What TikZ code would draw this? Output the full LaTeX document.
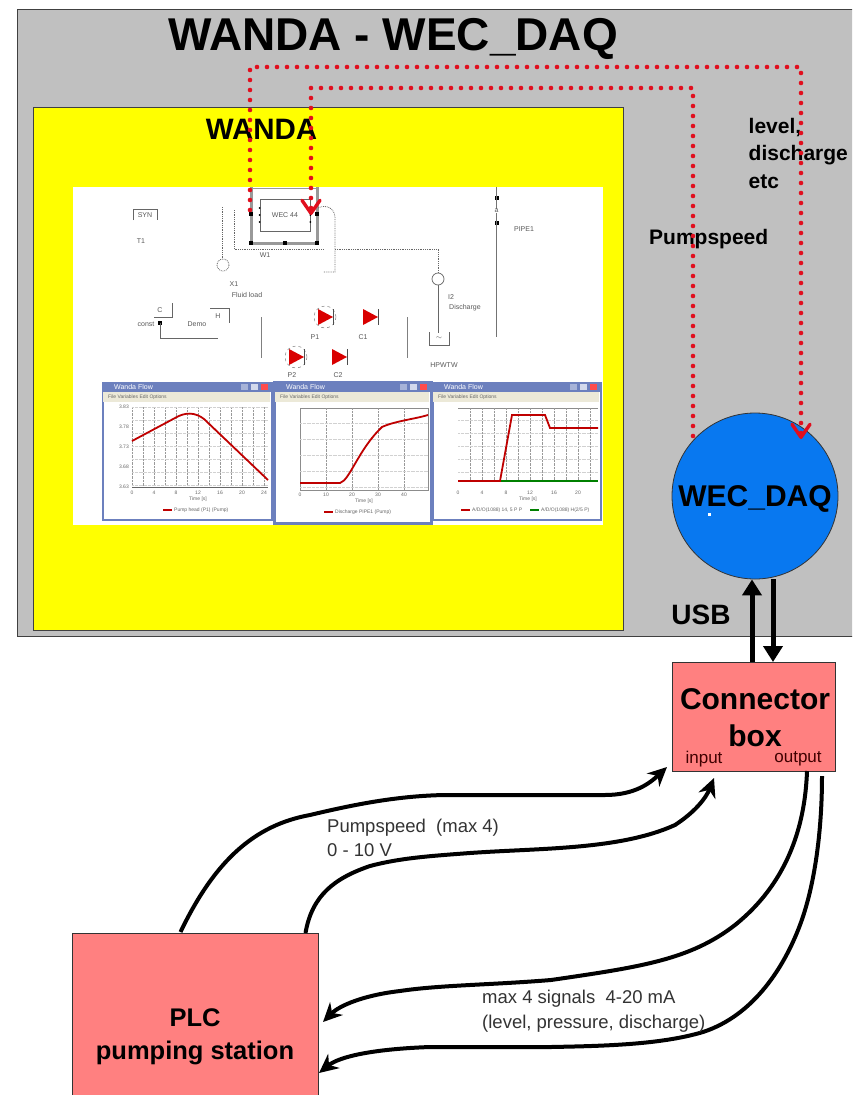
\documentclass[tikz,border=0pt]{standalone}
\usepackage{fontspec}
\setmainfont{Liberation Sans}
\usepackage{xcolor}
\definecolor{panelgray}{RGB}{192,192,192}
\definecolor{sheetyellow}{RGB}{255,255,0}
\definecolor{daqblue}{RGB}{8,120,240}
\definecolor{salmon}{RGB}{255,128,128}
\definecolor{dotred}{RGB}{225,15,30}
\definecolor{winblue}{RGB}{108,128,190}
\definecolor{menubeige}{RGB}{236,233,216}
\usetikzlibrary{arrows.meta, positioning, calc, shapes.geometric}

\begin{document}
\begin{tikzpicture}[
    x=1pt, y=-1pt,
    >=Stealth,
    panel/.style={draw=black!75, fill=panelgray, line width=1pt, anchor=north west, inner sep=0pt},
    sheet/.style={fill=sheetyellow, draw=black!75, line width=1pt, anchor=north west, inner sep=0pt},
    shot/.style={fill=white, anchor=north west, inner sep=0pt},
    redbox/.style={draw=black!80, fill=salmon, line width=0.8pt, anchor=north west, inner sep=0pt},
    daqnode/.style={draw=black!80, fill=daqblue, circle, line width=0.8pt, minimum size=166pt, inner sep=0pt},
    head/.style={font=\fontsize{#1}{#1}\selectfont\bfseries, inner sep=0pt},
    note/.style={font=\fontsize{18.5}{24.5}\selectfont, align=left, anchor=west, inner sep=0pt, text=black!80},
    tag/.style={font=\fontsize{21}{27.5}\selectfont\bfseries, align=left, anchor=west, inner sep=0pt},
    port/.style={font=\fontsize{17}{17}\selectfont, inner sep=0pt, text=black!75!red},
    tiny/.style={font=\fontsize{7}{7}\selectfont, inner sep=0pt, text=black!65},
    mini/.style={font=\fontsize{5}{5}\selectfont, inner sep=0pt, text=black!60},
    redline/.style={dotred, line width=4.6pt, line cap=round, dash pattern=on 0pt off 10pt},
    redtip/.style={-{Straight Barb[length=13pt,width=18pt,line width=3.4pt,round,dotred]}},
    usbline/.style={line width=5pt, -{Triangle[length=16pt,width=19pt]}},
    wire/.style={line width=4pt, -{Stealth[length=19pt,width=18pt]}},
    thinwire/.style={black!60, line width=0.7pt},
    dotwire/.style={black!60, line width=0.8pt, densely dotted},
    window/.style={draw=winblue, fill=white, line width=1.5pt, anchor=north west, inner sep=0pt},
    plotarea/.style={draw=black!45, line width=0.5pt},
    curve/.style={red!75!black, line width=1.8pt},
    gridv/.style={black!40, line width=0.4pt, densely dotted},
    gridh/.style={black!18, line width=0.3pt, densely dotted}
  ]
  \clip (0,0) rectangle (852,1095);

  % Grey panel and yellow sheet
  \node[panel, minimum width=836pt, minimum height=627pt] (panel) at (17,9) {};
  \node[sheet, minimum width=590pt, minimum height=523pt] (sheet) at (33,107) {};
  \node[shot, minimum width=530pt, minimum height=338pt] (shot) at (73,187) {};
  \node[head=46] (title) at (393,39) {WANDA - WEC\_DAQ};
  \node[head=29.5] (wanda) at (261.5,129) {WANDA};

  % Schematic inside the screenshot
  \draw[black!40, line width=3pt] (251,187) -- (251,243) -- (317,243) -- (317,187);
  \draw[black!40, line width=1pt] (251,188) -- (317,188);
  \node[draw=black!60, line width=0.7pt, minimum width=50pt, minimum height=32pt, inner sep=0pt, tiny] (wecbox) at (285,215) {WEC 44};
  \foreach \y in {208,215,222}{
    \fill (wecbox.west |- 0,\y) circle (1);
    \fill (wecbox.east |- 0,\y) circle (1);
  }
  \foreach \x/\y in {251/214, 317/214, 251/243, 285/243, 317/243, 496.5/198, 496.5/223, 160/323}
    \fill (\x-2,\y-2) rectangle (\x+2,\y+2);
  \node[tiny] (wone) at (265,255) {W1};
  \draw[thinwire] (133,220) |- (157,209) -- (157,220);
  \node[tiny] (yin) at (145,215) {SYN};
  \node[tiny] (tone) at (141,241) {T1};
  \draw[dotwire] (222,207) -- (222,259);
  \draw[dotwire] (223,265) circle (6);
  \node[tiny] (xone) at (234,284) {X1};
  \node[tiny] (fluid) at (247,295) {Fluid load};
  \draw[dotwire] (234,210) |- (323,249);
  \draw[dotwire] (318,208) .. controls (326,204) and (335,208) .. (335,218) -- (335,272) -- (323,272);
  \draw[dotwire] (335,249) -- (438,249) -- (438,273);
  \draw[thinwire] (438,279) circle (6);
  \draw[thinwire] (438,285) -- (438,333);
  \node[tiny] (itwo) at (451,297) {I2};
  \node[tiny] (disch) at (465,308) {Discharge};
  \draw[thinwire] (429,332) |- (449,345) -- (449,332);
  \node[tiny] (hpw) at (439,338) {$\sim$};
  \node[tiny] (res) at (444,365) {HPWTW};
  \draw[black!55, line width=1pt] (496.5,187) -- (496.5,337);
  \node[tiny, fill=white, inner sep=0.5pt] (pipea) at (496.5,211) {a};
  \node[tiny] (pipeone) at (524,229) {PIPE1};
  \draw[thinwire] (154,317) -- (172,317) -- (172,303);
  \node[tiny] (tanks) at (160,310) {C};
  \node[tiny] (const) at (146,324) {const};
  \draw[thinwire] (160,323) |- (218,338);
  \draw[thinwire] (210,308) -- (229,308) -- (229,323);
  \node[tiny] (tankh) at (218,316) {H};
  \node[tiny] (demo) at (197,324) {Demo};
  \draw[black!50, line width=1pt] (261,317) -- (261,358);
  \draw[black!50, line width=1pt] (407,317) -- (407,358);
  \foreach \x/\y in {325/317, 296/357}{
    \draw[black!50, line width=0.5pt, dashed] (\x,\y) circle (11);
  }
  \foreach \x/\y in {325/317, 370/317, 296/357, 339/357}{
    \fill[red!85!black] (\x-7,\y-8) -- (\x+8,\y) -- (\x-7,\y+8) -- cycle;
    \draw[black!70, line width=0.7pt] (\x+8,\y-8) -- (\x+8,\y+8);
  }
  \node[tiny] (pone) at (315,337) {P1};
  \node[tiny] (cone) at (363,337) {C1};
  \node[tiny] (ptwo) at (292,375) {P2};
  \node[tiny] (ctwo) at (338,375) {C2};

  % Three plot windows
  \foreach \name/\x/\wdt/\hgt in {winA/102/169/137, winC/432/168/137, winB/274/156/140}{
    \node[window, minimum width=\wdt pt, minimum height=\hgt pt] (\name) at (\x,382) {};
    \fill[winblue] (\x,382) rectangle (\x+\wdt,392);
    \fill[menubeige] (\x+1,392) rectangle (\x+\wdt-1,402);
    \fill[red!70!white] (\x+\wdt-10,384) rectangle (\x+\wdt-3,390);
    \fill[white!70!winblue] (\x+\wdt-20,384) rectangle (\x+\wdt-13,390);
    \fill[white!40!winblue] (\x+\wdt-30,384) rectangle (\x+\wdt-23,390);
    \node[tiny, text=white, anchor=west] at (\x+12,387) {Wanda Flow};
    \node[mini, anchor=west] at (\x+6,397) {File Variables Edit Options};
  }
  \draw[winblue, line width=2.5pt] (winB.north west) rectangle (winB.south east);

  \foreach \x in {132,143,...,268}
    \draw[gridv] (\x,407) -- (\x,487);
  \foreach \y in {407,420,...,487}
    \draw[gridh] (132,\y) -- (268,\y);
  \draw[black!60, line width=0.5pt] (132,487) -- (268,487);
  \foreach \x/\val in {132/0, 154/4, 176/8, 198/12, 220/16, 242/20, 264/24}
    \node[mini] at (\x,493) {\val};
  \foreach \y/\val in {407/3.83, 427/3.78, 447/3.73, 467/3.68, 487/3.63}
    \node[mini, anchor=east] at (129,\y) {\val};
  \node[mini] at (198,499) {Time [s]};
  \draw[curve] (132,441) -- (175,418) .. controls (185,412) and (195,412) .. (204,419) -- (268,480);
  \draw[curve] (163,510) -- (172,510);
  \node[mini, anchor=west] at (174,510) {Pump head (P1) (Pump)};

  \draw[plotarea] (300,408) rectangle (428,490);
  \foreach \x in {326,352,...,428}
    \draw[gridv] (\x,408) -- (\x,490);
  \foreach \y in {423,439,...,490}
    \draw[gridh] (300,\y) -- (428,\y);
  \foreach \x/\val in {300/0, 326/10, 352/20, 378/30, 404/40}
    \node[mini] at (\x,495) {\val};
  \node[mini] at (364,501) {Time [s]};
  \draw[curve] (300,483) -- (340,483) .. controls (350,480) and (358,450) .. (382,427) .. controls (395,421) and (415,419) .. (428,415);
  \draw[curve] (324,512) -- (333,512);
  \node[mini, anchor=west] at (335,512) {Discharge PIPE1 (Pump)};

  \draw[plotarea] (458,408) -- (598,408);
  \foreach \x in {470,482,...,598}
    \draw[gridv] (\x,408) -- (\x,481);
  \foreach \y in {420,433,...,481}
    \draw[gridh] (458,\y) -- (598,\y);
  \foreach \x/\val in {458/0, 482/4, 506/8, 530/12, 554/16, 578/20}
    \node[mini] at (\x,493) {\val};
  \node[mini] at (528,499) {Time [s]};
  \draw[green!50!black, line width=1.2pt] (458,481) -- (598,481);
  \draw[curve] (458,481) -- (500,481) -- (512,415) -- (545,415) -- (550,428) -- (598,428);
  \draw[curve] (461,510) -- (470,510);
  \draw[green!50!black, line width=1.2pt] (530,510) -- (539,510);
  \node[mini, anchor=west] at (472,510) {A/D/O(1088) 14, 5 P P};
  \node[mini, anchor=west] at (541,510) {A/D/O(1088) H(2/5 P)};

  % WEC_DAQ circle and labels on the panel
  \node[daqnode] (daq) at (755,496) {};
  \node[head=30] (daqlabel) at (755,499) {WEC\_DAQ};
  \fill[white] (707.5,512.5) rectangle (710.5,515.5);
  \node[tag] (levels) at (748.5,153) {level,\\discharge\\etc};
  \node[tag] (pumptag) at (649,239) {Pumpspeed};
  \node[head=28] (usb) at (701,615) {USB};

  % Red signal routes
  \coordinate (wecL) at (250,210);
  \coordinate (wecR) at (311,215);
  \coordinate (daqL) at (693,436);
  \coordinate (daqR) at (801,439);
  \draw[redline] (wecL) -- ++(0,-143) -| (daqR);
  \draw[redtip, dotred, line width=0pt] ($(daqR)+(0,-1)$) -- (daqR);
  \draw[redline] (daqL) -- ++(0,-348) -| (wecR);
  \draw[redtip, dotred, line width=0pt] ($(wecR)+(0,-1)$) -- (wecR);

  % Connector box and PLC
  \node[redbox, minimum width=163pt, minimum height=109pt] (connbox) at (672,662) {};
  \node[head=30, align=center, font=\fontsize{30}{37}\selectfont\bfseries] (conntext) at (755,718) {Connector\\box};
  \node[port] (input) at (704,759) {input};
  \node[port] (output) at (798,759) {output};
  \node[redbox, minimum width=246pt, minimum height=170pt] (plcbox) at (72,933) {};
  \node[head=25.5, align=center, font=\fontsize{25.5}{33}\selectfont\bfseries] (plctext) at (195,1037) {PLC\\pumping station};

  % USB arrows
  \coordinate (usbA) at (752,0);
  \coordinate (usbB) at (773,0);
  \draw[usbline] (connbox.north -| usbA) -- (daq.south -| usbA);
  \draw[usbline] (daq.south -| usbB) -- (connbox.north -| usbB);

  % Signal wires
  \coordinate (plcA) at (180.5,932);
  \coordinate (plcB) at (305.5,933);
  \coordinate (boxA) at (667,767);
  \coordinate (boxB) at (714,778);
  \coordinate (boxC) at (807,771);
  \coordinate (boxD) at (822,776);
  \coordinate (plcC) at (323,1022);
  \coordinate (plcD) at (319,1073);
  \draw[wire] (plcA) .. controls (215,860) and (255,825) .. (310,815) .. controls (360,803) and (400,796) .. (444,795) -- (605,795) .. controls (635,795) and (650,783) .. (boxA);
  \draw[wire] (plcB) .. controls (312,895) and (335,878) .. (370,866) .. controls (400,858) and (430,856) .. (470,853) .. controls (540,848) and (620,850) .. (675,825) .. controls (695,812) and (706,798) .. (boxB);
  \draw[wire] (boxC) .. controls (805,830) and (785,885) .. (735,925) .. controls (690,960) and (640,967) .. (551,980) .. controls (490,985) and (440,985) .. (400,991) .. controls (365,995) and (340,1005) .. (plcC);
  \draw[wire] (boxD) .. controls (822,830) and (815,885) .. (800,925) .. controls (785,965) and (755,1015) .. (703,1032) .. controls (660,1045) and (600,1046) .. (551,1047) -- (430,1047) .. controls (375,1049) and (340,1056) .. (plcD);

  % Wire notes
  \node[note] (pumpnote) at (327,838) {Pumpspeed\ \ (max 4)\\0 - 10 V};
  \node[note] (signote) at (482,1011) {max 4 signals\ \ 4-20 mA\\(level, pressure, discharge)};
\end{tikzpicture}
\end{document}
